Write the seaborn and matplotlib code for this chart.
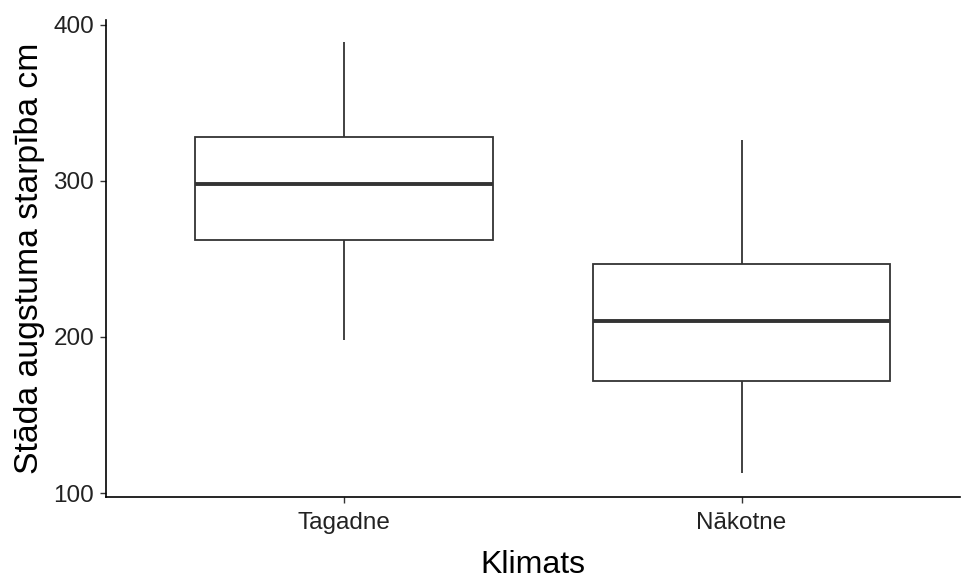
import matplotlib
matplotlib.use("Agg")
import matplotlib.pyplot as plt
import seaborn as sns
import pandas as pd

# Five-number summaries (min, Q1, median, Q3, max)
categories = ["Tagadne", "Nākotne"]
tagadne_vals = [198, 262, 298, 328, 389]
nakotne_vals = [113, 172, 210, 247, 326]
y_ticks = [100, 200, 300, 400]

df = pd.DataFrame({
    "Klimats": [categories[0]] * len(tagadne_vals) + [categories[1]] * len(nakotne_vals),
    "value": tagadne_vals + nakotne_vals,
})

sns.set_theme(style="ticks")
plt.rcParams["font.family"] = ["Liberation Sans", "DejaVu Sans"]

fig = plt.figure(figsize=(9.69, 5.79), dpi=100)
ax = fig.add_axes([106 / 969, 1 - 497 / 579, (960 - 106) / 969, (497 - 20) / 579])

line_col = "#333333"
sns.boxplot(
    data=df, x="Klimats", y="value", order=categories, ax=ax,
    width=0.75, whis=1.5, showcaps=False, fliersize=0,
    boxprops=dict(facecolor="white", edgecolor=line_col, linewidth=1.3),
    whiskerprops=dict(color=line_col, linewidth=1.3),
    medianprops=dict(color=line_col, linewidth=2.8),
    linecolor=line_col,
)

ax.set_xlim(-0.6, 1.55)
ax.set_ylim(97.5, 403)
ax.set_yticks(y_ticks)
ax.set_yticklabels([str(t) for t in y_ticks])

for side in ["top", "right"]:
    ax.spines[side].set_visible(False)
for side in ["left", "bottom"]:
    ax.spines[side].set_color("black")
    ax.spines[side].set_linewidth(1.2)

ax.tick_params(axis="both", colors="#333333", labelcolor="#222222",
               labelsize=17.5, length=4.5, width=1.0)
ax.tick_params(axis="x", pad=6)
ax.tick_params(axis="y", pad=4)
ax.set_xlabel("Klimats", fontsize=23, color="black", labelpad=12)
ax.set_ylabel("Stāda augstuma starpība cm", fontsize=24.3, color="black", labelpad=6)

fig.savefig("out.png", dpi=100)
